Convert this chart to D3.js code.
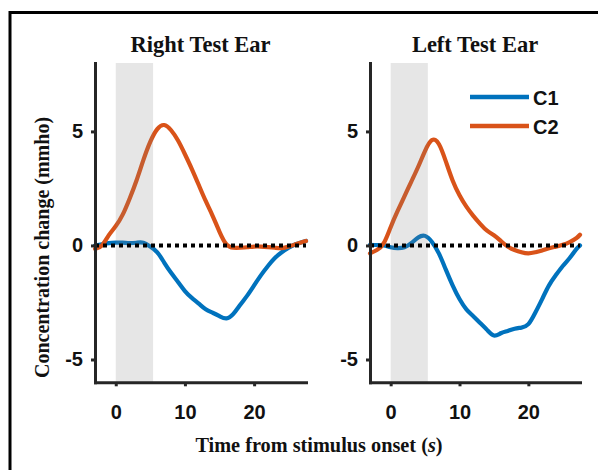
<!DOCTYPE html>
<html><head><meta charset="utf-8">
<script src="https://cdn.jsdelivr.net/npm/d3@7"></script>
<style>body{margin:0;background:#fff}</style>
</head><body><svg id="c" width="598" height="470"></svg>
<script>
// ---- data ----
const time = [-3,-2,-1,0,1,2,3,4,5,6,7,8,9,10,11,12,13,14,15,16,17,18,19,20,21,22,23,24,25,26,27,27.5];
const rightEarC1 = [0.0,0.05,0.1,0.12,0.12,0.1,0.12,0.12,-0.05,-0.3,-0.75,-1.2,-1.6,-2.0,-2.3,-2.55,-2.8,-2.95,-3.1,-3.2,-3.0,-2.6,-2.2,-1.75,-1.3,-0.9,-0.55,-0.3,-0.1,0.05,0.15,0.2];
const rightEarC2 = [-0.15,0.0,0.45,0.85,1.35,2.05,2.85,3.75,4.55,5.1,5.28,5.05,4.6,4.0,3.35,2.65,1.95,1.3,0.6,0.05,-0.1,-0.1,-0.08,-0.05,-0.05,-0.07,-0.1,-0.12,-0.05,0.05,0.15,0.2];
const leftEarC1 = [0.03,0.02,0.0,-0.08,-0.12,-0.08,0.1,0.35,0.42,0.15,-0.35,-1.05,-1.75,-2.35,-2.8,-3.1,-3.4,-3.7,-3.95,-3.85,-3.75,-3.65,-3.6,-3.45,-2.95,-2.35,-1.75,-1.3,-0.9,-0.55,-0.15,0.0];
const leftEarC2 = [-0.35,-0.2,0.1,0.8,1.5,2.15,2.8,3.45,4.15,4.62,4.45,3.7,2.85,2.2,1.7,1.3,0.95,0.65,0.45,0.2,-0.05,-0.2,-0.3,-0.35,-0.3,-0.22,-0.12,-0.05,0.03,0.15,0.33,0.47];
const panelTitles = ["Right Test Ear", "Left Test Ear"];
const seriesNames = ["C1", "C2"];
const seriesColors = ["#0072BD", "#D95319"];
const xTicks = [0, 10, 20];
const yTicks = [-5, 0, 5];
const stimWindow = [0, 5.4];
const xDomain = [-3, 27.5];
const yDomain = [-6, 8];

// ---- drawing ----
const svg = d3.select("#c");
const serif = "'Liberation Serif','Times New Roman',serif";
const sans = "'Liberation Sans',Arial,sans-serif";

// frame
svg.append("line").attr("x1",10).attr("x2",598).attr("y1",12.5).attr("y2",12.5).attr("stroke","#000").attr("stroke-width",3);
svg.append("line").attr("x1",10).attr("x2",10).attr("y1",11).attr("y2",470).attr("stroke","#000").attr("stroke-width",3);

const y = d3.scaleLinear().domain(yDomain).range([382.3, 63]);
const panels = [
  {title: panelTitles[0], r: [95, 306], c1: rightEarC1, c2: rightEarC2},
  {title: panelTitles[1], r: [370, 580], c1: leftEarC1, c2: leftEarC2}
];

panels.forEach((p, i) => {
  const x = d3.scaleLinear().domain(xDomain).range(p.r);
  const g = svg.append("g");
  const line = d3.line().x((d, j) => x(time[j])).y(d => y(d)).curve(d3.curveNatural);

  [p.c1, p.c2].forEach((s, k) => {
    g.append("path").datum(s).attr("d", line).attr("fill", "none")
      .attr("stroke", seriesColors[k]).attr("stroke-width", 4.2)
      .attr("stroke-linejoin", "round").attr("stroke-linecap", "round");
  });

  // stimulus window patch (semi-transparent, over the curves)
  g.append("rect").attr("x", x(stimWindow[0])).attr("width", x(stimWindow[1]) - x(stimWindow[0]))
    .attr("y", y(yDomain[1])).attr("height", y(yDomain[0]) - y(yDomain[1]))
    .attr("fill", "#808080").attr("opacity", 0.2);

  // zero line
  g.append("line").attr("x1", x(xDomain[0])).attr("x2", x(xDomain[1]))
    .attr("y1", y(0)).attr("y2", y(0)).attr("stroke", "#000")
    .attr("stroke-width", 4).attr("stroke-dasharray", "4,4");

  // axes
  const fmt = d => String(d);
  const ya = g.append("g").attr("transform", `translate(${p.r[0]},0)`)
    .call(d3.axisLeft(y).tickValues(yTicks).tickFormat(fmt).tickSize(4).tickSizeOuter(0).tickPadding(8));
  const xa = g.append("g").attr("transform", `translate(0,${y(yDomain[0])})`)
    .call(d3.axisBottom(x).tickValues(xTicks).tickFormat(fmt).tickSize(4).tickSizeOuter(0).tickPadding(19));
  [ya, xa].forEach(a => {
    a.select(".domain").attr("stroke", "#262626").attr("stroke-width", 3).attr("stroke-linecap", "square");
    a.selectAll(".tick line").attr("stroke", "#262626").attr("stroke-width", 3);
    a.selectAll(".tick text").attr("fill", "#111").style("font-family", sans)
      .style("font-weight", "bold").style("font-size", "20px");
  });

  // title
  svg.append("text").attr("x", (p.r[0] + p.r[1]) / 2).attr("y", 52).attr("text-anchor", "middle")
    .style("font-family", serif).style("font-weight", "bold").style("font-size", "22.5px")
    .attr("fill", "#111").text(p.title);
});

// legend
const leg = svg.append("g");
[97, 126].forEach((ly, k) => {
  leg.append("line").attr("x1", 470).attr("x2", 529).attr("y1", ly).attr("y2", ly)
    .attr("stroke", seriesColors[k]).attr("stroke-width", 4.5);
  leg.append("text").attr("x", 533).attr("y", ly + 7.5).attr("fill", "#111")
    .style("font-family", sans).style("font-weight", "bold").style("font-size", "20px")
    .text(seriesNames[k]);
});

// axis labels
const xl = svg.append("text").attr("x", 319).attr("y", 451.5).attr("text-anchor", "middle")
  .style("font-family", serif).style("font-weight", "bold").style("font-size", "20.3px").attr("fill", "#111");
xl.append("tspan").text("Time from stimulus onset (");
xl.append("tspan").style("font-style", "italic").text("s");
xl.append("tspan").text(")");

svg.append("text").attr("transform", "translate(49,247.5) rotate(-90)").attr("text-anchor", "middle")
  .style("font-family", serif).style("font-weight", "bold").style("font-size", "20px").attr("fill", "#111")
  .text("Concentration change (mmho)");
</script></body></html>
